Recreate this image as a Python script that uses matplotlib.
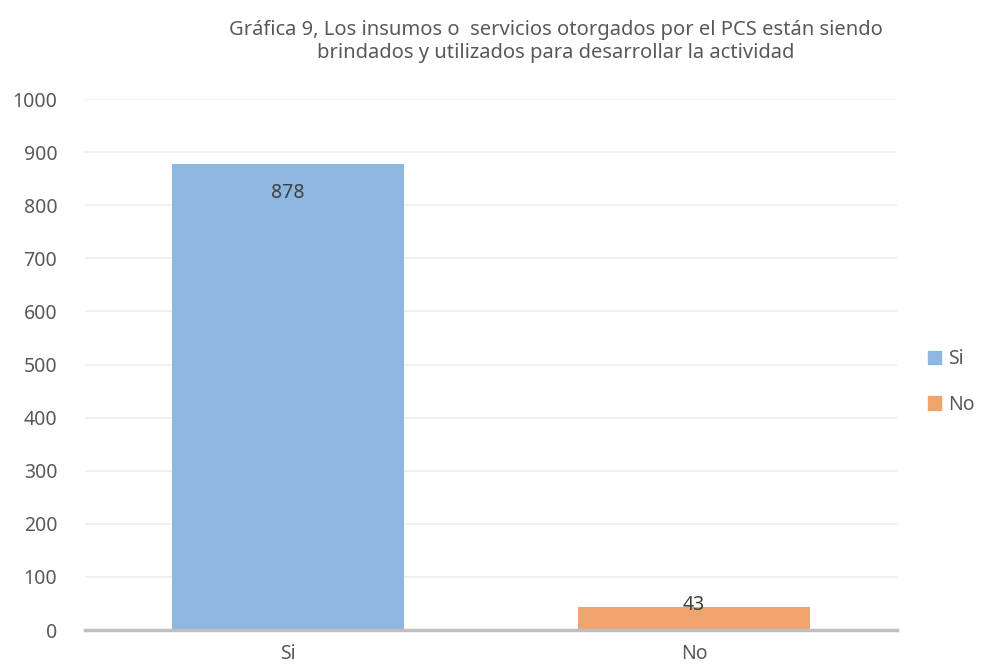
import matplotlib
matplotlib.use('Agg')
import matplotlib.pyplot as plt
from matplotlib.patches import Patch

# datos
categorias = ['Si', 'No']
valores = [878, 43]
colores = ['#8DB6E1', '#F0A46D']
yticks = [0, 100, 200, 300, 400, 500, 600, 700, 800, 900, 1000]
titulo = ('Gráfica 9, Los insumos o  servicios otorgados por el PCS están siendo\n'
          'brindados y utilizados para desarrollar la actividad')

plt.rcParams['font.family'] = ['Noto Sans', 'DejaVu Sans']

fig = plt.figure(figsize=(9.87, 6.70), dpi=100)
ax = fig.add_axes([0.0861, 0.0597, 0.8227, 0.7925])

x = range(len(categorias))
bars = ax.bar(x, valores, width=0.57, color=colores, zorder=3)

ax.set_xlim(-0.5, 1.5)
ax.set_ylim(0, 1000)
ax.set_yticks(yticks)
ax.set_xticks(list(x))
ax.set_xticklabels(categorias)
ax.tick_params(axis='both', length=0, labelsize=14, colors='#595959')
ax.tick_params(axis='x', pad=10)
ax.tick_params(axis='y', pad=20)
ax.grid(axis='y', color='#EDEDED', linewidth=1.2, zorder=0)
for s in ['top', 'right', 'left']:
    ax.spines[s].set_visible(False)
ax.spines['bottom'].set_color('#BFBFBF')
ax.spines['bottom'].set_linewidth(2.5)
ax.spines['bottom'].set_zorder(4)

# etiquetas de datos
offs = [-21, 1.5]
for b, v, o in zip(bars, valores, offs):
    ax.annotate(str(v), (b.get_x() + b.get_width() / 2, v), xytext=(0, o),
                textcoords='offset points', ha='center', va='center',
                fontsize=14, color='#404040', zorder=5)

fig.text(0.563, 0.97, titulo, ha='center', va='top', fontsize=14.5,
         color='#595959', linespacing=1.2)

handles = [Patch(color=c, label=l) for c, l in zip(colores, categorias)]
fig.legend(handles=handles, loc='center left', bbox_to_anchor=(0.932, 0.43),
           frameon=False, fontsize=14, handlelength=0.7, handleheight=0.7,
           handletextpad=0.35, labelspacing=1.3, labelcolor='#595959',
           borderaxespad=0)

fig.savefig('out.png', dpi=100)
